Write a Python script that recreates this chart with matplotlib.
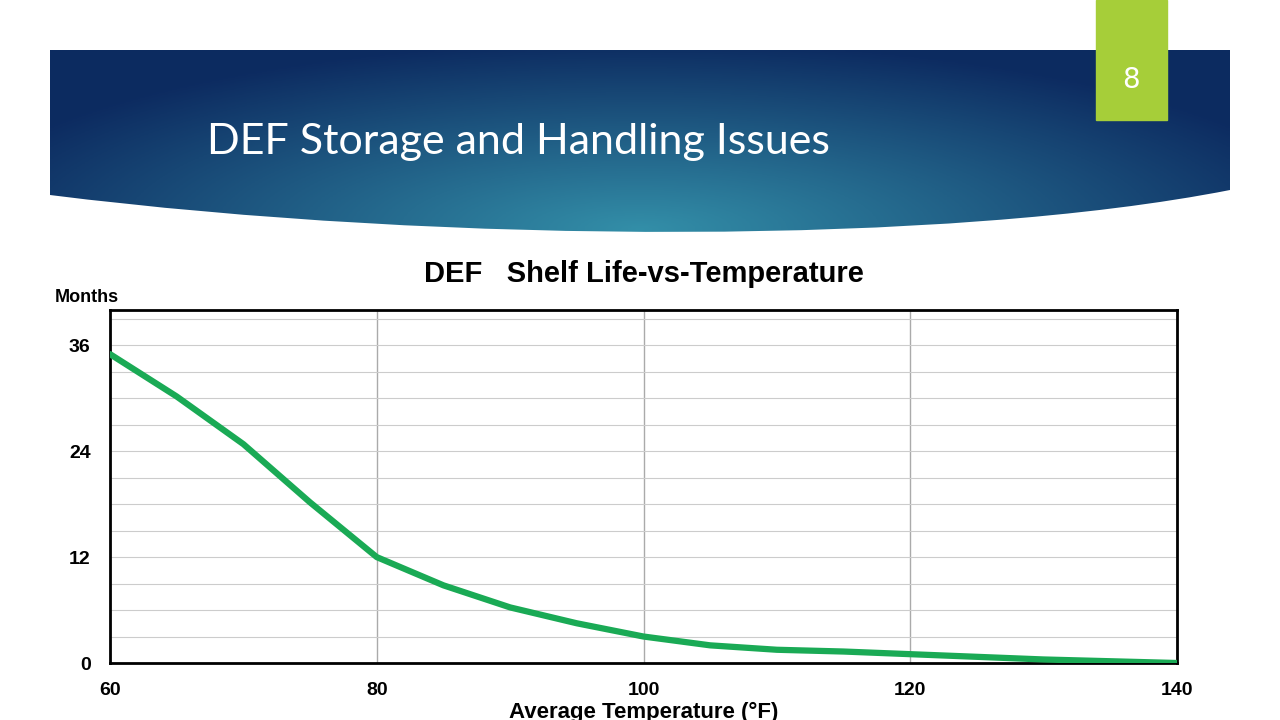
import numpy as np
import matplotlib
matplotlib.use("Agg")
import matplotlib.pyplot as plt
from matplotlib.path import Path
from matplotlib.patches import PathPatch, Rectangle

temps = [60, 65, 70, 75, 80, 85, 90, 95, 100, 105, 110, 115, 120, 125, 130, 135, 140]
months = [35, 30.2, 24.8, 18.2, 12, 8.8, 6.3, 4.5, 3.0, 2.0, 1.5, 1.3, 1.0, 0.7, 0.4, 0.2, 0.0]
x_ticks = [60, 80, 100, 120, 140]
y_ticks = [0, 12, 24, 36]

fig = plt.figure(figsize=(12.8, 7.2), dpi=100)

# banner background (figure pixel coords)
bg = fig.add_axes([0, 0, 1, 1])
bg.set_xlim(0, 1280)
bg.set_ylim(720, 0)
bg.axis("off")
xx, yy = np.meshgrid(np.linspace(0, 1, 300), np.linspace(0, 1, 80))
d = np.sqrt(((xx - 0.5) / 0.6) ** 2 + ((yy - 0.95) / 1.0) ** 2)
t = np.clip(d, 0, 1)
c1 = np.array([0.20, 0.56, 0.66])
c2 = np.array([0.05, 0.17, 0.38])
img = c1 * (1 - t[..., None]) + c2 * t[..., None]
im = bg.imshow(img, extent=[50, 1230, 240, 50], aspect="auto", zorder=1)
verts = [(50, 50), (1230, 50), (1230, 190), (950, 245), (450, 245), (50, 195), (50, 50)]
codes = [Path.MOVETO, Path.LINETO, Path.LINETO, Path.CURVE4, Path.CURVE4, Path.CURVE4, Path.CLOSEPOLY]
clip = PathPatch(Path(verts, codes), transform=bg.transData, facecolor="none", edgecolor="none")
bg.add_patch(clip)
im.set_clip_path(clip)
bg.add_patch(Rectangle((1096, 0), 71, 120, color="#a6ce39", zorder=3))
bg.text(1131, 88, "8", color="white", fontsize=20, ha="center", zorder=4)
bg.text(207, 142, "DEF Storage and Handling Issues", color="white", fontsize=31,
        family="Lato", va="center", zorder=4)

# chart
ax = fig.add_axes([110 / 1280, 1 - 663 / 720, (1177 - 110) / 1280, (663 - 310) / 720])
ax.plot(temps, months, color="#1aaa55", lw=4.5, solid_capstyle="round", zorder=3)
ax.set_xlim(60, 140)
ax.set_ylim(0, 40)
ax.set_xticks(x_ticks)
ax.set_yticks(y_ticks)
ax.set_yticks(np.arange(0, 40, 3), minor=True)
ax.grid(True, which="major", axis="x", color="#aaaaaa", lw=1)
ax.grid(True, which="both", axis="y", color="#cccccc", lw=0.8)
ax.tick_params(which="both", length=0, labelsize=14, pad=14)
for lab in ax.get_xticklabels() + ax.get_yticklabels():
    lab.set_fontweight("bold")
    lab.set_family("Liberation Sans")
for s in ax.spines.values():
    s.set_linewidth(2)
ax.set_title("DEF   Shelf Life-vs-Temperature", fontsize=21, fontweight="bold",
             family="Liberation Sans", pad=20)
ax.set_xlabel("Average Temperature (°F)", fontsize=16, fontweight="bold",
              family="Liberation Sans", labelpad=2)
fig.text(55 / 1280, 1 - 297 / 720, "Months", fontsize=13, fontweight="bold",
         family="Liberation Sans", va="center")

fig.savefig("out.png", dpi=100)
